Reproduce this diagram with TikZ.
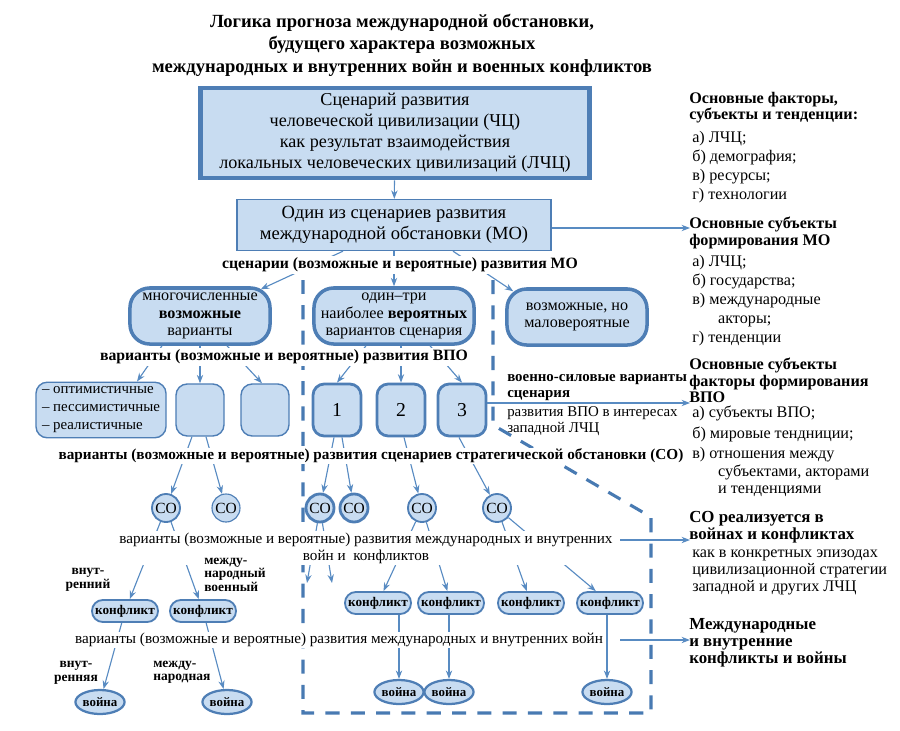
\documentclass[tikz,border=0pt]{standalone}
\usepackage{fontspec}
\setmainfont{Liberation Serif}
\usetikzlibrary{shapes,arrows.meta,positioning,calc}
\definecolor{boxfill}{RGB}{200,220,241}
\definecolor{boxline}{RGB}{78,126,181}
\definecolor{arrowblue}{RGB}{88,139,194}
\definecolor{dashblue}{RGB}{72,122,178}
\newcommand{\fsz}[2]{\fontsize{#1}{#2}\selectfont}
\tikzset{
    % Define box styles
    bigbox/.style={
        rectangle, draw=boxline, line width=3.5pt, fill=boxfill,
        align=center, font=\fsz{12.9}{15}
    },
    mobox/.style={
        rectangle, draw=boxline, line width=0.8pt, fill=boxfill,
        align=center, font=\fsz{13.2}{15}
    },
    ovalbox/.style={
        rectangle, draw=boxline, line width=2.5pt, fill=boxfill,
        rounded corners=14pt, align=center, font=\fsz{11.5}{12.5},
        minimum height=1.4cm
    },
    varbox/.style={
        rectangle, draw=boxline, line width=1pt, fill=boxfill,
        rounded corners=8pt, minimum height=1.3cm, minimum width=1.2cm,
        font=\fsz{14}{15}
    },
    numbox/.style={varbox, line width=2pt},
    cobox/.style={
        circle, draw=boxline, line width=1.3pt, fill=boxfill,
        minimum size=0.7cm, inner sep=0pt, font=\fsz{11}{12}
    },
    conbox/.style={
        rectangle, draw=boxline, line width=1.3pt, fill=boxfill,
        rounded corners=0.27cm, minimum height=0.55cm, minimum width=1.65cm,
        inner sep=2pt, font=\fsz{9.4}{11}\bfseries
    },
    warbox/.style={
        ellipse, draw=boxline, line width=1.6pt, fill=boxfill,
        minimum width=1.1cm, minimum height=0.6cm, inner sep=0pt,
        font=\fsz{9.2}{11}\bfseries
    },
    % Define text styles
    title/.style={align=center, font=\fsz{13.2}{16}\bfseries},
    lbl/.style={fill=white, inner sep=1pt, align=center, font=\fsz{11.2}{13}\bfseries},
    lblthin/.style={fill=white, inner sep=1pt, align=center, font=\fsz{10.8}{12}},
    tag/.style={inner sep=0pt, font=\fsz{9.6}{9.5}\bfseries},
    panelhead/.style={anchor=north west, inner sep=0pt, align=left,
        font=\fsz{11.5}{11.5}\bfseries},
    panellist/.style={anchor=north west, inner sep=0pt, align=left,
        font=\fsz{11.5}{13.5}},
    % Define line styles
    arr/.style={-{Stealth[length=6pt,width=4.5pt]}, draw=arrowblue, line width=0.8pt},
    zone/.style={draw=dashblue, line width=2.2pt, dash pattern=on 10pt off 8pt}
}

\begin{document}
\begin{tikzpicture}[x=0.025cm,y=-0.025cm]
\useasboundingbox (0,0) rectangle (900,730);

% Dashed zone of the probable variants
\draw[zone] (493,280) -- (493,425) -- (651,517) -- (651,713) -- (303,713) -- (303,280);

% Title
\node[title] (ttl) at (402,45) {Логика прогноза международной обстановки,\\будущего характера возможных\\международных и внутренних войн и военных конфликтов};

% Top boxes
\node[bigbox, minimum width=9.7cm, minimum height=2.25cm] (chc) at (395,133) {Сценарий развития\\человеческой цивилизации (ЧЦ)\\как результат взаимодействия\\локальных человеческих цивилизаций (ЛЧЦ)};
\node[mobox, minimum width=7.85cm, minimum height=1.28cm] (mo) at (394,225) {Один из сценариев развития\\международной обстановки (МО)};

% Scenario groups
\node[ovalbox, minimum width=3.5cm] (mnog) at (200,316) {многочисленные\\\textbf{возможные}\\варианты};
\node[ovalbox, minimum width=4.0cm] (odin) at (394,316) {один--три\\наиболее \textbf{вероятных}\\вариантов сценария};
\node[ovalbox, minimum width=3.5cm] (malo) at (577,317) {возможные, но\\маловероятные};

% Variants of the military-political situation
\node[varbox, minimum width=3.25cm, align=left, font=\fsz{10.6}{12.8}] (opt) at (101,410) {-- оптимистичные\\-- пессимистичные\\-- реалистичные};
\node[varbox] (b1) at (200,410) {};
\node[varbox] (b2) at (265,410) {};
\node[numbox] (v1) at (337,410) {1};
\node[numbox] (v2) at (401,410) {2};
\node[numbox] (v3) at (462,410) {3};

% Strategic situations
\node[cobox] (co1) at (166,508) {СО};
\node[cobox, line width=0.8pt] (co2) at (226,508) {СО};
\node[cobox, line width=2pt] (co3) at (320,508) {СО};
\node[cobox, line width=2pt] (co4) at (354,508) {СО};
\node[cobox] (co5) at (422,508) {СО};
\node[cobox] (co6) at (497,508) {СО};
\coordinate (e1) at (307,583);
\coordinate (e2) at (332,583);

% Conflicts
\node[conbox] (kon1) at (125,611) {конфликт};
\node[conbox] (kon2) at (203,611) {конфликт};
\node[conbox] (kon5) at (378,603) {конфликт};
\node[conbox] (kon6) at (451,603) {конфликт};
\node[conbox] (kon7) at (531,603) {конфликт};
\node[conbox] (kon8) at (610,603) {конфликт};

% Wars
\node[warbox] (war1) at (100,702) {война};
\node[warbox] (war2) at (227,702) {война};
\node[warbox] (war3) at (399,692) {война};
\node[warbox] (war4) at (449,692) {война};
\node[warbox] (war5) at (607,692) {война};

% Connectors
\draw[arr] (chc) -- (mo);
\draw[arr] ($(mo.south)+(-51,0)$) -- ($(mnog.north east)+(-11,3)$);
\draw[arr] (mo.south) -- (odin.north);
\draw[arr] ($(mo.south)+(59,0)$) -- ($(malo.north west)+(8,4)$);
\draw[arr] ($(mnog.south)+(-38,0)$) -- ($(opt.north)+(36,0)$);
\draw[arr] (mnog.south) -- (b1.north);
\draw[arr] ($(mnog.south)+(27,0)$) -- ($(b2.north)+(-3,0)$);
\draw[arr] ($(odin.south)+(-28,0)$) -- (v1.north);
\draw[arr] ($(odin.south)+(7,0)$) -- (v2.north);
\draw[arr] ($(odin.south)+(36,0)$) -- (v3.north);
\draw[arr] ($(b1.south)+(-8,0)$) -- (co1);
\draw[arr] ($(b1.south)+(6,0)$) -- (co2);
\draw[arr] ($(v1.south)+(-3,0)$) -- (co3);
\draw[arr] ($(v1.south)+(5,0)$) -- (co4);
\draw[arr] ($(v2.south)+(3,0)$) -- (co5);
\draw[arr] ($(v3.south)+(-3,0)$) -- (co6);
\draw[arr] (co1) -- (kon1);
\draw[arr] (co1) -- (kon2);
\draw[arr] (co3) -- (e1);
\draw[arr] (co3) -- (e2);
\draw[arr] (co5) -- (kon5);
\draw[arr] (co5) -- (kon6);
\draw[arr] (co6) -- (kon7);
\draw[arr] (co6) -- (kon8);
\draw[arr] (kon1) -- (war1);
\draw[arr] (kon2) -- (war2);
\draw[arr] (war3.north |- kon5.south) -- (war3.north);
\draw[arr] (war4.north |- kon6.south) -- (war4.north);
\draw[arr] (war5.north |- kon8.south) -- (war5.north);

% Arrows to the right panels
\coordinate (p2) at (690,228);
\coordinate (p3) at (690,403);
\coordinate (s4) at (620,540);
\coordinate (p4) at (690,540);
\coordinate (s5) at (620,640);
\coordinate (p5) at (690,640);
\draw[arr] (mo.east |- p2) -- (p2);
\draw[arr] (v3.east |- p3) -- (p3);
\draw[arr] (s4) -- (p4);
\draw[arr] (s5) -- (p5);

% Level labels
\node[lbl] (lb1) at (400,265) {сценарии (возможные и вероятные) развития МО};
\node[lbl] (lb2) at (284,357) {варианты (возможные и вероятные) развития ВПО};
\node[lbl, font=\fsz{10.85}{13}\bfseries] (lb3) at (371,456) {варианты (возможные и вероятные) развития сценариев стратегической обстановки (СО)};
\node[lblthin] (lb4) at (366,548) {варианты (возможные и вероятные) развития международных и внутренних\\войн и\ \ конфликтов};
\node[lblthin] (lb5) at (339,640) {варианты (возможные и вероятные) развития международных и внутренних войн};

% Side tags
\node[tag, align=center] (t1) at (88,580) {внут-\\ренний};
\node[tag, align=left, anchor=north west] (t2) at (204,558) {между-\\народный\\военный};
\node[tag, align=center] (t3) at (76,673) {внут-\\ренняя};
\node[tag, align=left, anchor=north west] (t4) at (153,661) {между-\\народная};

% Force variants note
\node[panelhead, font=\fsz{10.6}{11.5}\bfseries] (vs1) at (507,374) {военно-силовые варианты\\сценария};
\node[panellist, font=\fsz{10.6}{11.5}] (vs2) at (507,406) {развития ВПО в интересах\\западной ЛЧЦ};

% Right panels
\node[panelhead] (h1) at (689,92) {Основные факторы,\\субъекты и тенденции:};
\node[panellist] (l1) at (692,131) {а) ЛЧЦ;\\б) демография;\\в) ресурсы;\\г) технологии};
\node[panelhead] (h2) at (689,217) {Основные субъекты\\формирования МО};
\node[panellist] (l2) at (692,255) {а) ЛЧЦ;\\б) государства;\\в) международные\\\hspace{1.6em}акторы;\\г) тенденции};
\node[panelhead] (h3) at (689,358) {Основные субъекты\\факторы формирования\\ВПО};
\node[panellist, font=\fsz{11.5}{14.5}] (l3) at (692,406) {а) субъекты ВПО;\\б) мировые тендниции;\\в) отношения между\\[-2pt]\hspace{1.6em}субъектами, акторами\\[-2pt]\hspace{1.6em}и тенденциями};
\node[panelhead, font=\fsz{12}{12}\bfseries] (h4) at (689,511) {СО реализуется в\\войнах и конфликтах};
\node[panellist, font=\fsz{11.5}{12}] (l4) at (692,550) {как в конкретных эпизодах\\цивилизационной стратегии\\западной и других ЛЧЦ};
\node[panelhead, font=\fsz{12}{12}\bfseries] (h5) at (689,618) {Международные\\и внутренние\\конфликты и войны};

\end{tikzpicture}
\end{document}
